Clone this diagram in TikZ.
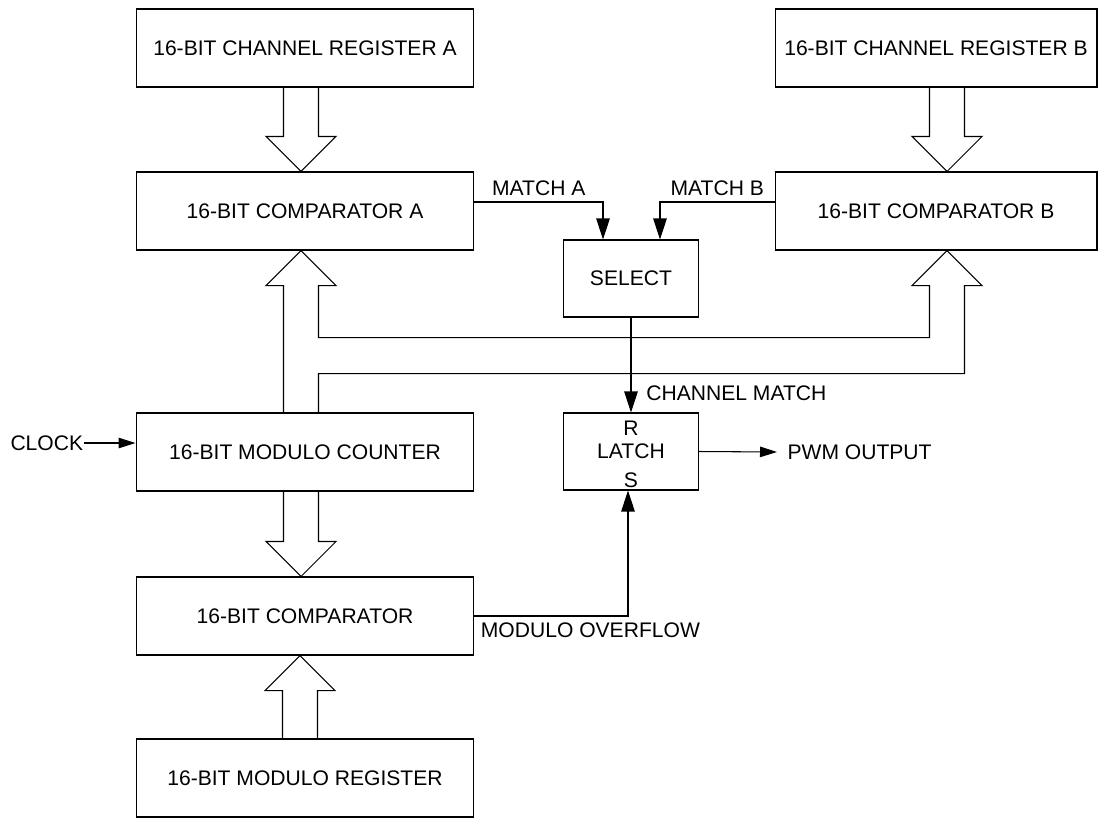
\documentclass[tikz,border=0pt]{standalone}
\usepackage{fontspec}
\setmainfont{Liberation Sans}
\usetikzlibrary{arrows.meta,calc,positioning}

\tikzset{
  block/.style={draw, minimum width=6.76cm, minimum height=1.56cm},
  smallblock/.style={draw, minimum width=2.7cm, minimum height=1.54cm},
  sig/.style={-{Triangle[length=0.42cm,width=0.27cm]}},
  sigshort/.style={-{Triangle[length=0.34cm,width=0.21cm]}},
}

% hollow 16-bit bus arrows: #1 source, #2 target, #3 x offset of the shaft
\newcommand{\busdown}[3]{\draw ($(#1.south)+(#3-17.5,0)$) |- ($(#2.north)+(#3-35,-35)$) -- ($(#2.north)+(#3,0)$) -- ($(#2.north)+(#3+35,-35)$) -| ($(#1.south)+(#3+17.5,0)$);}
\newcommand{\busup}[3]{\draw ($(#1.north)+(#3-17.5,0)$) |- ($(#2.south)+(#3-35,35)$) -- ($(#2.south)+(#3,0)$) -- ($(#2.south)+(#3+35,35)$) -| ($(#1.north)+(#3+17.5,0)$);}

\begin{document}
\begin{tikzpicture}[x=0.02cm, y=-0.02cm, line width=0.6pt, font=\fontsize{12}{14}\selectfont]
\useasboundingbox (0,0) rectangle (1099,819);

\node[block] (regA) at (305,48) {16-BIT CHANNEL REGISTER A};
\node[block] (compA) at (305,211) {16-BIT COMPARATOR A};
\node[block, minimum width=6.44cm] (regB) at (936,48) {16-BIT CHANNEL REGISTER B};
\node[block, minimum width=6.44cm] (compB) at (936,211) {16-BIT COMPARATOR B};
\node[smallblock] (select) at (631,278.5) {SELECT};
\node[smallblock] (latch) at (631,451.5) {LATCH};
\node[inner sep=0, below=0.15cm of latch.north] (latchR) {R};
\node[inner sep=0, above=0.05cm of latch.south] (latchS) {S};
\node[block] (counter) at (305,452) {16-BIT MODULO COUNTER};
\node[block] (comp) at (305,616) {16-BIT COMPARATOR};
\node[block] (modreg) at (305,778) {16-BIT MODULO REGISTER};
\node[inner sep=0, anchor=west] (clock) at (10,443) {CLOCK};
\node[inner sep=0, anchor=west] (pwm) at (787,452) {PWM OUTPUT};

% buses
\busdown{regA}{compA}{-4}
\busdown{regB}{compB}{11}
\busdown{counter}{comp}{-4}
\busup{modreg}{comp}{-5}

\coordinate (tipA) at ($(compA.south)+(-4,0)$);
\coordinate (tipB) at ($(compB.south)+(11,0)$);
\coordinate (aR) at ($(tipA)+(17.5,35)$);
\coordinate (aL) at ($(tipA)+(-17.5,35)$);
\coordinate (bL) at ($(tipB)+(-17.5,35)$);
\coordinate (bR) at ($(tipB)+(17.5,35)$);
\draw (aL |- counter.north) -- (aL) -- ++(-17.5,0) -- (tipA) -- ($(tipA)+(35,35)$) -- (aR)
  -- ++(0,52) -| (bL) -- ++(-17.5,0) -- (tipB) -- ($(tipB)+(35,35)$) -- (bR)
  -- ++(0,88) -| (aR |- counter.north);

% signals
\draw[sig] ($(compA.east)+(0,-9)$) -| ($(select.north)+(-28,0)$) node[pos=0.25, above] (matchA) {MATCH A};
\draw[sig] ($(compB.west)+(0,-9)$) -| ($(select.north)+(29,0)$) node[pos=0.25, above] (matchB) {MATCH B};
\draw[sig] (select.south) -- (latch.north) node[pos=0.8, right=0.18cm] (chmatch) {CHANNEL MATCH};
\draw[sigshort] (clock.east) -- (clock.east -| counter.west);
\draw[sigshort] (latch.east) -- ($(pwm.west)+(-10,0)$);
\draw[sig] (comp.east) -| ($(latch.south)+(-3,0)$) node[pos=0, below right] (overflow) {MODULO OVERFLOW};
\end{tikzpicture}
\end{document}
